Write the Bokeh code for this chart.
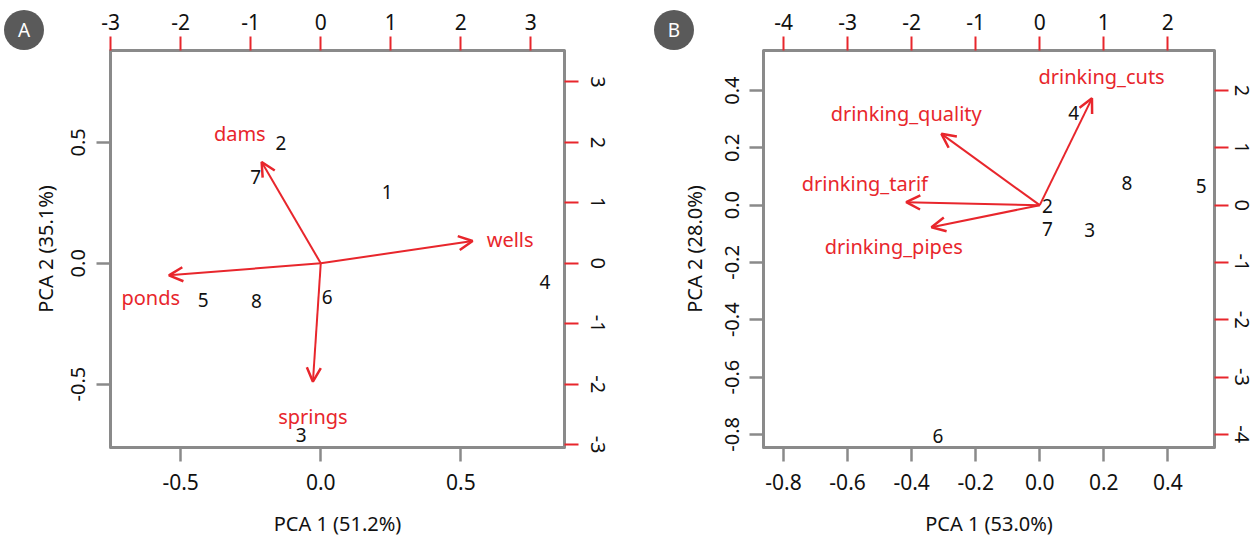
import math
from bokeh.plotting import figure
from bokeh.models import (Range1d, LinearAxis, FixedTicker,
                          ColumnDataSource, Arrow, OpenHead, GridBox, Div)
from bokeh.core.properties import value
from bokeh.embed import file_html
from bokeh.resources import INLINE

RED = "#e8262c"
GREY = "#8a8a8a"
FONT = "Noto Sans"

# ---------------- Panel A data ----------------
a_sites = ["1", "2", "3", "4", "5", "6", "7", "8"]
a_score_pc1 = [0.95, -0.57, -0.28, 3.20, -1.68, 0.09, -0.93, -0.92]
a_score_pc2 = [1.18, 1.99, -2.84, -0.31, -0.60, -0.55, 1.43, -0.63]
a_vars = ["dams", "wells", "ponds", "springs"]
a_load_pc1 = [-0.211, 0.542, -0.542, -0.028]
a_load_pc2 = [0.419, 0.092, -0.050, -0.490]
a_lab_pc1 = [-0.289, 0.676, -0.607, -0.028]
a_lab_pc2 = [0.536, 0.098, -0.143, -0.635]
a_xticks = [-0.5, 0.0, 0.5]
a_xtick_labels = ["-0.5", "0.0", "0.5"]
a_yticks = [-0.5, 0.0, 0.5]
a_ytick_labels = ["-0.5", "0.0", "0.5"]
a_top_ticks = [-3, -2, -1, 0, 1, 2, 3]
a_top_labels = ["-3", "-2", "-1", "0", "1", "2", "3"]
a_right_ticks = [-3, -2, -1, 0, 1, 2, 3]
a_right_labels = ["-3", "-2", "-1", "0", "1", "2", "3"]
a_xlabel = "PCA 1 (51.2%)"
a_ylabel = "PCA 2 (35.1%)"

# ---------------- Panel B data ----------------
b_sites = ["2", "4", "8", "5", "7", "3", "6"]
b_score_pc1 = [0.12, 0.53, 1.36, 2.52, 0.12, 0.78, -1.59]
b_score_pc2 = [-0.02, 1.61, 0.38, 0.33, -0.41, -0.43, -4.03]
b_vars = ["drinking_cuts", "drinking_quality", "drinking_tarif", "drinking_pipes"]
b_load_pc1 = [0.163, -0.307, -0.417, -0.338]
b_load_pc2 = [0.373, 0.249, 0.0105, -0.077]
b_lab_pc1 = [0.193, -0.417, -0.546, -0.456]
b_lab_pc2 = [0.449, 0.319, 0.075, -0.144]
b_xticks = [-0.8, -0.6, -0.4, -0.2, 0.0, 0.2, 0.4]
b_xtick_labels = ["-0.8", "-0.6", "-0.4", "-0.2", "0.0", "0.2", "0.4"]
b_yticks = [-0.8, -0.6, -0.4, -0.2, 0.0, 0.2, 0.4]
b_ytick_labels = ["-0.8", "-0.6", "-0.4", "-0.2", "0.0", "0.2", "0.4"]
b_top_ticks = [-4, -3, -2, -1, 0, 1, 2]
b_top_labels = ["-4", "-3", "-2", "-1", "0", "1", "2"]
b_right_ticks = [-4, -3, -2, -1, 0, 1, 2]
b_right_labels = ["-4", "-3", "-2", "-1", "0", "1", "2"]
b_xlabel = "PCA 1 (53.0%)"
b_ylabel = "PCA 2 (28.0%)"

panel_letters = ["A", "B"]


def make_axis(side, ticks, labels, color, orient, standoff, size, range_name=None, title=None):
    kw = {}
    if range_name:
        kw["x_range_name" if side in ("above", "below") else "y_range_name"] = range_name
    ax = LinearAxis(ticker=FixedTicker(ticks=ticks),
                    major_label_overrides=dict(zip(ticks, labels)), **kw)
    ax.axis_line_color = None
    ax.major_tick_line_color = color
    ax.major_tick_line_width = 2
    ax.major_tick_out = 14
    ax.major_tick_in = 0
    ax.minor_tick_line_color = None
    ax.major_label_text_font = FONT
    ax.major_label_text_font_size = size
    ax.major_label_text_color = "#111111"
    ax.major_label_orientation = orient
    ax.major_label_standoff = standoff
    if title:
        ax.axis_label = title
        ax.axis_label_text_font = FONT
        ax.axis_label_text_font_size = "20px"
        ax.axis_label_text_font_style = "normal"
        ax.axis_label_text_color = "#111111"
    return ax


def panel(xr, yr, k, fw, fh, bl, br, bt, bb,
          xt, xtl, yt, ytl, tt, ttl, rt, rtl, xlabel, ylabel,
          left_std, left_title_std, right_std,
          sites, spc1, spc2, vars_, lpc1, lpc2, tpc1, tpc2):
    p = figure(frame_width=fw, frame_height=fh,
               x_range=Range1d(*xr), y_range=Range1d(*yr),
               x_axis_location=None, y_axis_location=None,
               output_backend="svg", toolbar_location=None,
               min_border_left=bl, min_border_right=br,
               min_border_top=bt, min_border_bottom=bb)
    p.extra_x_ranges = {"sc": Range1d(xr[0] * k, xr[1] * k)}
    p.extra_y_ranges = {"sc": Range1d(yr[0] * k, yr[1] * k)}
    p.xgrid.visible = False
    p.ygrid.visible = False
    p.outline_line_color = GREY
    p.outline_line_width = 3
    p.outline_line_join = "round"
    p.background_fill_color = None
    p.border_fill_color = None

    bottom = make_axis("below", xt, xtl, GREY, "horizontal", 12, "21px", title=xlabel)
    bottom.major_tick_line_width = 2.5
    bottom.axis_label_standoff = 17
    p.add_layout(bottom, "below")

    left = make_axis("left", yt, ytl, GREY, "parallel", left_std, "20px", title=ylabel)
    left.major_tick_line_width = 2.5
    left.axis_label_standoff = left_title_std
    p.add_layout(left, "left")

    top = make_axis("above", tt, ttl, RED, "horizontal", 7, "21px", range_name="sc")
    p.add_layout(top, "above")

    right = make_axis("right", rt, rtl, RED, "parallel", right_std, "20px", range_name="sc")
    p.add_layout(right, "right")

    # loadings arrows
    n = len(vars_)
    src = ColumnDataSource(dict(x0=[0.0] * n, y0=[0.0] * n, x1=lpc1, y1=lpc2))
    p.add_layout(Arrow(source=src, x_start="x0", y_start="y0", x_end="x1", y_end="y1",
                       line_color=RED, line_width=2,
                       end=OpenHead(size=14, line_color=RED, line_width=2.5)))
    p.text(x=tpc1, y=tpc2, text=vars_, text_color=RED,
           text_font=value(FONT), text_font_size="20px",
           text_align="center", text_baseline="middle")

    # site scores
    p.text(x=spc1, y=spc2, text=sites, x_range_name="sc", y_range_name="sc",
           text_color="#111111", text_font=value(FONT), text_font_size="19px",
           text_align="center", text_baseline="middle")
    return p


def badge(letter, left):
    html = ('<div style="position:absolute;left:%dpx;top:10px;width:40px;height:40px;'
            'border-radius:20px;background:#5a5a5a;color:#ffffff;'
            'font-family:\'Noto Sans\';font-size:19px;line-height:40px;'
            'text-align:center;">%s</div>' % (left, letter))
    return Div(text=html, width=left + 40, height=50, margin=0, align="start",
               styles={"position": "relative", "font-size": "19px"})


pa = panel((-0.7505, 0.870), (-0.762, 0.880), 4, 454, 397, 110, 52, 50, 88,
           a_xticks, a_xtick_labels, a_yticks, a_ytick_labels,
           a_top_ticks, a_top_labels, a_right_ticks, a_right_labels,
           a_xlabel, a_ylabel, 11, 10, 12,
           a_sites, a_score_pc1, a_score_pc2, a_vars, a_load_pc1, a_load_pc2,
           a_lab_pc1, a_lab_pc2)

pb = panel((-0.8625, 0.5456), (-0.846, 0.540), 5, 451, 397, 147, 40, 50, 88,
           b_xticks, b_xtick_labels, b_yticks, b_ytick_labels,
           b_top_ticks, b_top_labels, b_right_ticks, b_right_labels,
           b_xlabel, b_ylabel, 10, 15, 6,
           b_sites, b_score_pc1, b_score_pc2, b_vars, b_load_pc1, b_load_pc2,
           b_lab_pc1, b_lab_pc2)

ba = badge(panel_letters[0], 4)
bb = badge(panel_letters[1], 38)

layout = GridBox(children=[(pa, 0, 0), (pb, 0, 1), (ba, 0, 0), (bb, 0, 1)], spacing=0)
open("out.html", "w").write(file_html(layout, INLINE))
